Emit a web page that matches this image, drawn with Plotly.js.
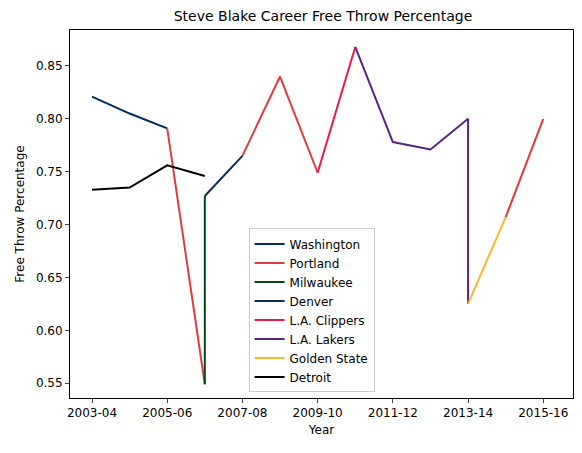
<!DOCTYPE html>
<html>
<head>
<script src="https://cdn.plot.ly/plotly-3.0.1.min.js"></script>
<style>body{margin:0}</style>
</head>
<body>
<div id="chart" style="width:582px;height:453px"></div>
<script>
// seasons as indices 0..12 (2003-04 .. 2015-16)
var tickVals = [0, 2, 4, 6, 8, 10, 12];
var tickLabels = ['2003-04', '2005-06', '2007-08', '2009-10', '2011-12', '2013-14', '2015-16'];

var teams = ['Washington', 'Portland', 'Milwaukee', 'Denver', 'L.A. Clippers', 'L.A. Lakers', 'Golden State', 'Detroit'];
var colors = ['#002B5C', '#E03A3E', '#00471B', '#0E2B56', '#ED174C', '#552583', '#FDB927', '#000000'];

var xWashington = [0, 1, 2];
var yWashington = [0.821, 0.805, 0.791];
var xPortland = [2, 3, null, 4, 5, 6, null, 11, 12];
var yPortland = [0.791, 0.549, null, 0.765, 0.840, 0.749, null, 0.707, 0.800];
var xMilwaukee = [3, 3];
var yMilwaukee = [0.549, 0.727];
var xDenver = [3, 4];
var yDenver = [0.727, 0.765];
var xClippers = [6, 7];
var yClippers = [0.749, 0.868];
var xLakers = [7, 8, 9, 10, 10];
var yLakers = [0.868, 0.778, 0.771, 0.800, 0.625];
var xGolden = [10, 11];
var yGolden = [0.625, 0.707];
var xDetroit = [0, 1, 2, 3];
var yDetroit = [0.733, 0.735, 0.756, 0.746];

var xs = [xWashington, xPortland, xMilwaukee, xDenver, xClippers, xLakers, xGolden, xDetroit];
var ys = [yWashington, yPortland, yMilwaukee, yDenver, yClippers, yLakers, yGolden, yDetroit];

var data = teams.map((t, i) => ({
  x: xs[i], y: ys[i], mode: 'lines', name: t,
  line: {color: colors[i], width: 2}, connectgaps: false
}));

var layout = {
  width: 582, height: 453,
  margin: {l: 70, r: 9, t: 30, b: 55},
  font: {family: 'DejaVu Sans', size: 12, color: '#000'},
  title: {text: 'Steve Blake Career Free Throw Percentage', x: 0.555, y: 0.975, font: {size: 14}},
  plot_bgcolor: '#fff', paper_bgcolor: '#fff',
  xaxis: {
    range: [-0.585, 12.79], tickvals: tickVals, ticktext: tickLabels,
    showgrid: false, zeroline: false, showline: true, mirror: true, linecolor: '#000',
    ticks: 'outside', ticklen: 4, title: {text: 'Year', standoff: 6, font: {size: 12}}
  },
  yaxis: {
    range: [0.536, 0.884], dtick: 0.05, tickformat: '.2f',
    showgrid: false, zeroline: false, showline: true, mirror: true, linecolor: '#000',
    ticks: 'outside', ticklen: 4, title: {text: 'Free Throw Percentage', standoff: 8, font: {size: 12}}
  },
  legend: {
    x: 0.355, y: 0.015, xanchor: 'left', yanchor: 'bottom',
    bordercolor: '#ccc', borderwidth: 1, bgcolor: 'rgba(255,255,255,0.8)',
    font: {size: 12}, tracegroupgap: 0
  },
  showlegend: true
};

window.addEventListener('load', (event) => {
  Plotly.newPlot('chart', data, layout, {displayModeBar: false});
});
</script>
</body>
</html>
